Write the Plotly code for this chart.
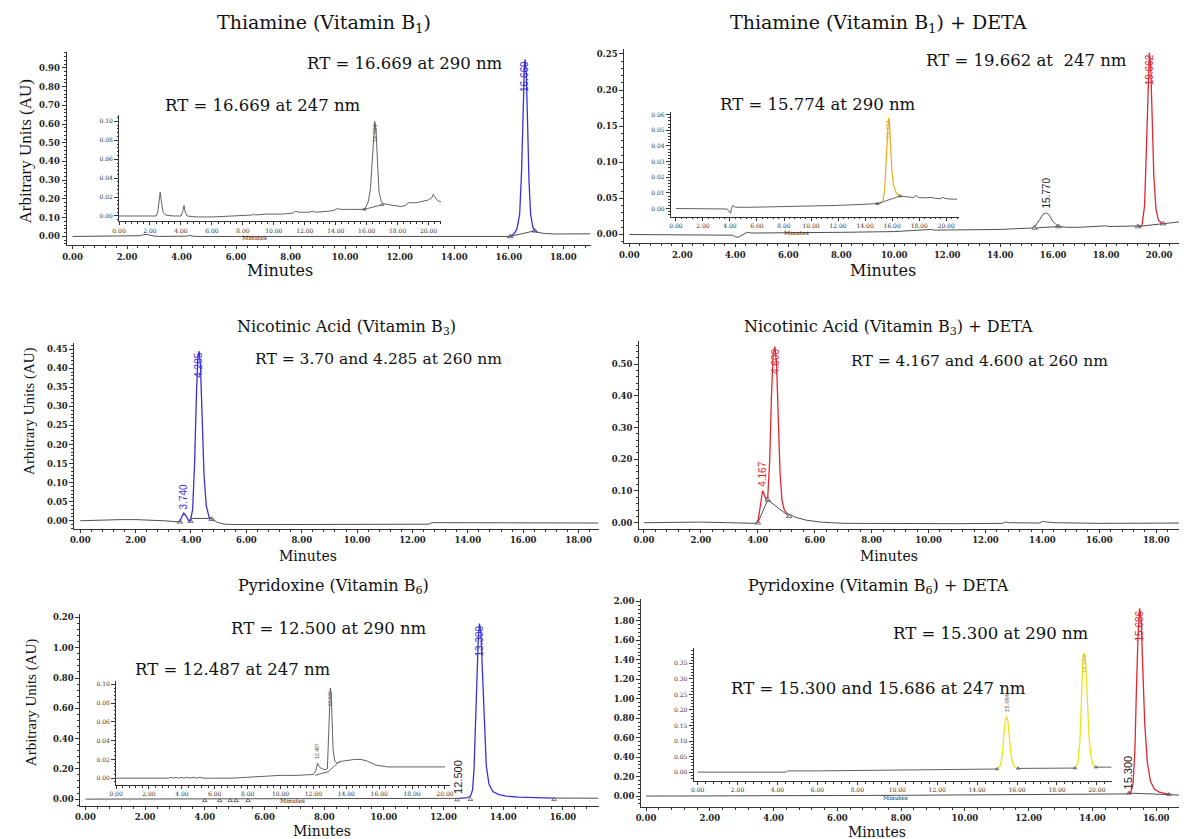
import plotly.graph_objects as go

# The page body has an 8 px margin, so the figure is drawn 8 px in from the window
OFF = 8
W, H = 1187 - OFF, 839 - OFF
SERIF = "DejaVu Serif, Liberation Serif, serif"
TSERIF = "Liberation Serif, Times New Roman, serif"
SANS = "Liberation Sans Narrow, Liberation Sans, Arial, sans-serif"
GRAY = "#505050"
BLUE = "#3b2fd9"
RED = "#e0262f"
ORANGE = "#e8aa1a"
YELLOW = "#efe01c"
AXIS = "#333333"

# ---------------- data (minutes, AU) ----------------
# Panel 1: Thiamine 290 nm
p1_t = [0.0, 1.0, 2.3, 2.5, 2.6, 2.7, 2.8, 2.95, 3.2, 4.0, 4.2, 4.3, 4.4, 4.6, 6.0, 8.0, 10.0, 12.0, 14.0, 15.0, 16.05]
p1_y = [0.0, 0.0, 0.0, 0.004, 0.009, 0.011, 0.008, 0.003, 0.0, 0.0, 0.002, 0.005, 0.002, 0.0, 0.0, 0.0, 0.0, 0.0, 0.0, 0.0, 0.0]
p1_pk_t = [16.05, 16.2, 16.3, 16.4, 16.47, 16.52, 16.57, 16.6, 16.64, 16.69, 16.74, 16.8, 16.88, 16.95, 17.05]
p1_pk_y = [0.0, 0.015, 0.04, 0.12, 0.35, 0.65, 0.9, 0.945, 0.88, 0.6, 0.3, 0.12, 0.05, 0.03, 0.022]
p1_tail_t = [17.05, 17.3, 17.7, 18.2, 18.6, 19.0]
p1_tail_y = [0.022, 0.016, 0.013, 0.012, 0.013, 0.014]
p1_base_t = [16.05, 16.95]
p1_base_y = [0.0, 0.03]

# Panel 1 inset: Thiamine 247 nm
p1i_t = [0.0, 1.5, 2.4, 2.5, 2.58, 2.66, 2.74, 2.85, 3.0, 3.5,
         4.0, 4.12, 4.2, 4.28, 4.4, 5.0, 6.0, 7.0, 8.0, 8.6,
         8.7, 8.8, 9.5, 10.5, 11.2, 11.4, 11.6, 12.0, 12.3, 12.5,
         12.7, 13.5, 13.9, 14.1, 14.3, 15.0, 15.7, 15.9, 16.1, 16.25,
         16.35, 16.45, 16.52, 16.6, 16.7, 16.8, 16.95, 17.1, 17.4, 17.8,
         18.2, 18.5, 18.7, 19.2, 19.7, 20.0, 20.2, 20.3, 20.45, 20.6, 20.8]
p1i_y = [0.0, 0.0, 0.0, 0.004, 0.015, 0.025, 0.015, 0.004, 0.001, 0.0,
         0.0, 0.005, 0.011, 0.004, 0.0, -0.001, -0.001, 0.0, 0.001, 0.001,
         0.002, 0.001, 0.002, 0.002, 0.003, 0.005, 0.004, 0.004, 0.004, 0.005,
         0.004, 0.005, 0.006, 0.008, 0.007, 0.007, 0.007, 0.008, 0.015, 0.03,
         0.06, 0.09, 0.10, 0.09, 0.05, 0.025, 0.015, 0.013, 0.012, 0.011,
         0.01, 0.011, 0.014, 0.014, 0.016, 0.017, 0.019, 0.023, 0.019, 0.016, 0.015]
p1i_base_t = [15.85, 17.0]
p1i_base_y = [0.007, 0.012]

# Panel 2: Thiamine + DETA 247 nm
p2_t = [0.0, 2.0, 3.9, 4.0, 4.1, 4.2, 4.35, 4.45, 4.6, 5.0, 6.0, 8.0, 10.0, 11.3, 11.4, 11.5, 12.0, 14.0, 15.2,
        15.35, 15.5, 15.62, 15.74, 15.85, 15.97, 16.1, 16.25, 16.5, 17.0, 17.9, 18.0, 18.1, 18.6, 19.2, 19.35]
p2_y = [0.0, 0.0, -0.001, -0.003, -0.004, -0.002, 0.001, 0.003, 0.002, 0.002, 0.002, 0.003, 0.004, 0.006, 0.007, 0.006, 0.006, 0.007, 0.009,
        0.013, 0.021, 0.028, 0.030, 0.027, 0.019, 0.014, 0.011, 0.01, 0.01, 0.011, 0.012, 0.011, 0.011, 0.011, 0.012]
p2_red_t = [19.35, 19.45, 19.52, 19.58, 19.63, 19.68, 19.74, 19.8, 19.88, 19.97, 20.07, 20.17]
p2_red_y = [0.012, 0.04, 0.12, 0.21, 0.252, 0.235, 0.16, 0.08, 0.035, 0.02, 0.016, 0.015]
p2_tail_t = [20.17, 20.5, 20.9]
p2_tail_y = [0.015, 0.016, 0.018]
p2_base1_t = [15.3, 16.2]
p2_base1_y = [0.009, 0.011]
p2_base2_t = [19.2, 20.15]
p2_base2_y = [0.011, 0.015]

# Panel 2 inset: 290 nm
p2i_t = [0.0, 2.0, 3.8, 3.95, 4.05, 4.12, 4.2, 4.3, 4.5, 5.5, 6.2, 6.4, 8.0, 10.0, 12.0, 14.0, 15.0, 15.3]
p2i_y = [0.0, 0.0, -0.0003, -0.002, -0.003, 0.0, 0.002, 0.0012, 0.0008, 0.0008, 0.0009, 0.0013, 0.0014, 0.0017, 0.002, 0.0027, 0.0033, 0.004]
p2i_pk_t = [15.3, 15.45, 15.55, 15.65, 15.73, 15.8, 15.88, 15.97, 16.1, 16.3, 16.55]
p2i_pk_y = [0.004, 0.012, 0.03, 0.05, 0.058, 0.055, 0.04, 0.025, 0.015, 0.01, 0.008]
p2i_tail_t = [16.55, 17.0, 17.6, 17.75, 17.85, 18.0, 18.5, 18.8, 19.0, 19.2, 19.6, 19.75, 19.9, 20.3, 20.8]
p2i_tail_y = [0.008, 0.0075, 0.007, 0.0085, 0.0075, 0.007, 0.0068, 0.0072, 0.0068, 0.0065, 0.0063, 0.0072, 0.0065, 0.006, 0.006]
p2i_base_t = [14.9, 16.6]
p2i_base_y = [0.0031, 0.008]

# Panel 3: Nicotinic acid 260 nm
p3_t = [0.0, 0.8, 1.5, 2.0, 2.5, 3.0, 3.6]
p3_y = [0.0, 0.002, 0.003, 0.003, 0.002, 0.0, -0.003]
p3_pk_t = [3.6, 3.66, 3.74, 3.82, 3.9, 3.98, 4.06, 4.13, 4.2, 4.25, 4.29, 4.34, 4.4, 4.47, 4.55, 4.65, 4.75]
p3_pk_y = [-0.003, 0.01, 0.02, 0.013, 0.002, -0.001, 0.03, 0.15, 0.34, 0.43, 0.445, 0.41, 0.28, 0.12, 0.04, 0.01, 0.004]
p3_tail_t = [4.75, 4.95, 5.2, 5.6, 7.0, 9.0, 11.0, 12.6, 12.7, 12.8, 13.2, 15.0, 17.0, 18.72]
p3_tail_y = [0.004, -0.004, -0.009, -0.01, -0.01, -0.01, -0.01, -0.009, -0.005, -0.005, -0.006, -0.006, -0.006, -0.006]
p3_base_t = [4.0, 4.7]
p3_base_y = [0.006, 0.006]

# Panel 4: Nicotinic acid + DETA 260 nm
p4_t = [0.0, 1.0, 2.0, 3.0, 3.5, 3.9, 4.0]
p4_y = [0.0, 0.002, 0.002, 0.0, -0.002, -0.002, 0.0]
p4_pk_t = [4.0, 4.06, 4.12, 4.17, 4.22, 4.28, 4.35, 4.42, 4.48, 4.54, 4.6, 4.66, 4.72, 4.78, 4.85, 4.93, 5.02]
p4_pk_y = [0.0, 0.04, 0.085, 0.101, 0.09, 0.075, 0.08, 0.2, 0.4, 0.53, 0.555, 0.5, 0.33, 0.16, 0.07, 0.04, 0.03]
p4_tail_t = [5.02, 5.3, 5.7, 6.2, 7.0, 9.0, 11.0, 12.6, 12.7, 12.85, 13.3, 13.9, 14.0, 14.1, 14.4, 16.0, 18.94]
p4_tail_y = [0.03, 0.018, 0.008, 0.002, -0.002, -0.003, -0.003, -0.002, 0.002, 0.0, -0.001, -0.001, 0.004, 0.003, 0.0, -0.002, -0.001]
p4_base_t = [4.0, 4.35, 5.1]
p4_base_y = [0.0, 0.072, 0.02]

# Panel 5: Pyridoxine 290 nm
p5_t = [0.0, 2.0, 4.0, 6.0, 8.0, 10.0, 12.0, 12.5]
p5_y = [0.0, 0.0, 0.0, 0.0, 0.002, 0.003, 0.004, 0.005]
p5_pk_t = [12.5, 12.8, 12.9, 12.97, 13.02, 13.07, 13.12, 13.16, 13.2, 13.25, 13.3, 13.36, 13.43, 13.52, 13.65, 13.85, 14.1, 14.5, 15.0, 15.7]
p5_pk_y = [0.005, 0.01, 0.02, 0.06, 0.2, 0.5, 0.85, 1.05, 1.16, 1.1, 0.85, 0.5, 0.22, 0.1, 0.05, 0.03, 0.02, 0.013, 0.01, 0.007]
p5_tail_t = [15.7, 16.5, 17.19]
p5_tail_y = [0.007, 0.006, 0.006]
p5_marks_t = [4.0, 4.5, 4.85, 5.05, 5.45, 12.45, 12.9, 15.7]
p5_marks_y = [-0.01, -0.01, -0.01, -0.01, -0.01, -0.005, -0.002, -0.002]

# Panel 5 inset: 247 nm
p5i_t = [0.0, 2.0, 3.2, 3.35, 3.5, 3.65, 3.8, 3.95, 4.1, 4.3,
         4.5, 4.7, 4.9, 5.1, 5.3, 6.0, 7.0, 8.0, 9.0, 10.0,
         11.0, 12.0, 12.15, 12.25, 12.33, 12.42, 12.55, 12.7, 12.85, 12.92,
         12.98, 13.03, 13.08, 13.13, 13.2, 13.3, 13.45, 13.7, 14.0, 14.5,
         14.9, 15.3, 15.8, 16.5, 18.0, 20.0]
p5i_y = [0.0, 0.0, 0.0, 0.001, 0.0, 0.001, 0.0, 0.001, 0.0, 0.001,
         0.0, 0.001, 0.0, 0.001, 0.0, 0.0, 0.0, 0.001, 0.002, 0.003,
         0.003, 0.004, 0.008, 0.016, 0.013, 0.011, 0.01, 0.009, 0.01, 0.04,
         0.08, 0.096, 0.09, 0.06, 0.03, 0.018, 0.016, 0.018, 0.019, 0.02,
         0.02, 0.018, 0.014, 0.012, 0.012, 0.012]
p5i_base_t = [12.1, 12.9, 13.6]
p5i_base_y = [0.003, 0.007, 0.018]

# Panel 6: Pyridoxine + DETA 290 nm
p6_t = [0.0, 2.0, 4.4, 4.5, 4.6, 6.0, 8.0, 10.0, 12.0, 14.0, 15.1]
p6_y = [0.0, 0.0, 0.0, 0.004, 0.005, 0.006, 0.008, 0.01, 0.013, 0.018, 0.022]
p6_pk_t = [15.1, 15.2, 15.27, 15.33, 15.38, 15.43, 15.48, 15.53, 15.58, 15.64, 15.72, 15.82, 15.95, 16.1, 16.3, 16.45]
p6_pk_y = [0.022, 0.04, 0.12, 0.45, 1.1, 1.65, 1.93, 1.8, 1.3, 0.75, 0.35, 0.15, 0.07, 0.04, 0.025, 0.02]
p6_tail_t = [16.45, 16.84]
p6_tail_y = [0.015, 0.008]
p6_base_t = [15.15, 16.4]
p6_base_y = [0.03, 0.015]

# Panel 6 inset: 247 nm
p6i_t = [0.0, 2.0, 4.4, 4.5, 4.6, 6.0, 8.0, 10.0, 12.0, 14.0, 15.0]
p6i_y = [0.0, 0.0, 0.0, 0.003, 0.004, 0.004, 0.005, 0.006, 0.007, 0.009, 0.01]
p6i_pk1_t = [15.0, 15.15, 15.25, 15.33, 15.4, 15.47, 15.54, 15.62, 15.7, 15.8, 15.92, 16.05]
p6i_pk1_y = [0.01, 0.02, 0.05, 0.11, 0.16, 0.18, 0.165, 0.11, 0.055, 0.025, 0.014, 0.012]
p6i_mid_t = [16.05, 17.0, 18.0, 18.9]
p6i_mid_y = [0.012, 0.012, 0.013, 0.013]
p6i_pk2_t = [18.9, 19.05, 19.15, 19.23, 19.3, 19.37, 19.44, 19.52, 19.6, 19.7, 19.82, 19.95]
p6i_pk2_y = [0.013, 0.03, 0.1, 0.25, 0.36, 0.385, 0.35, 0.24, 0.12, 0.05, 0.022, 0.016]
p6i_tail_t = [19.95, 20.4, 20.74]
p6i_tail_y = [0.016, 0.016, 0.016]

p5_yticks = [0.0, 0.2, 0.4, 0.6, 0.8, 1.0, 1.2]
p5_yticktext = ["0.00", "0.20", "0.40", "0.60", "0.80", "1.00", "0.20"]

# ---------------- layout helpers ----------------
fig = go.Figure()


def fx(px):
    return min(max((px - OFF) / W, 0.0), 1.0)


def fy(py):
    return min(max(1 - (py - OFF) / H, 0.0), 1.0)


def xname(n):
    return "x" if n == 1 else f"x{n}"


def yname(n):
    return "y" if n == 1 else f"y{n}"


# id: (xdom px, xrange, ydom (top, bottom) px, yrange, ydtick, tick font, tick len, inset)
AXES = {
    1: ((60, 589), [-0.22, 19.0], (50, 244), [-0.048, 0.985], 0.1, 8.5, 3, False),
    2: ((113, 438), [0.0, 20.8], (113, 220), [-0.0058, 0.107], 0.02, 6, 3, True),
    3: ((623, 1187), [-0.19, 20.9], (47, 242), [-0.0124, 0.257], 0.05, 8.5, 3, False),
    4: ((670, 961), [-0.37, 20.95], (110, 215), [-0.0051, 0.0619], 0.01, 6, 3, True),
    5: ((68, 597), [-0.21, 18.72], (342, 528), [-0.021, 0.466], 0.05, 8.5, 3, False),
    6: ((638, 1187), [-0.17, 18.94], (340, 528), [-0.019, 0.572], 0.1, 8.5, 3, False),
    7: ((74, 597), [-0.17, 17.19], (613, 806), [-0.046, 1.226], 0.2, 8.5, 3, False),
    8: ((110, 447), [0.0, 20.3], (681, 785), [-0.0074, 0.1032], 0.02, 6, 3, True),
    9: ((640, 1187), [-0.155, 16.84], (598, 807), [-0.113, 2.03], 0.2, 8.5, 3, False),
    10: ((693, 1115), [-0.2, 20.74], (648, 781), [-0.029, 0.398], 0.05, 6, 3, True),
}

layout_axes = {}
for n, (xd, xr, yd, yr, ydt, fs, tl, inset) in AXES.items():
    tf = dict(family=SERIF, size=fs, color="#333333" if inset else "#222222",
              weight="normal" if inset else "bold")
    layout_axes["xaxis" if n == 1 else f"xaxis{n}"] = dict(
        domain=[fx(xd[0]), fx(xd[1])], range=xr, anchor=yname(n),
        showline=True, linecolor=AXIS, linewidth=1,
        ticks="outside", ticklen=tl, tickwidth=1, tickcolor=AXIS,
        tick0=0, dtick=2, tickformat=".2f", tickfont=tf,
        minor=dict(ticks="outside", ticklen=2 if not inset else 1.5, dtick=0.4, tick0=0,
                   tickcolor=AXIS, tickwidth=1),
        showgrid=False, zeroline=False, fixedrange=True)
    yax = dict(
        domain=[fy(yd[1]), fy(yd[0])], range=yr, anchor=xname(n),
        showline=True, linecolor=AXIS, linewidth=1,
        ticks="outside", ticklen=tl + 1, tickwidth=1, tickcolor=AXIS,
        tick0=0, dtick=ydt, tickformat=".2f", tickfont=tf,
        minor=dict(ticks="outside", ticklen=2 if not inset else 1.5, dtick=ydt / 5, tick0=0,
                   tickcolor=AXIS, tickwidth=1),
        showgrid=False, zeroline=False, fixedrange=True)
    if n == 7:
        yax.update(tickmode="array", tickvals=p5_yticks, ticktext=p5_yticktext)
    layout_axes["yaxis" if n == 1 else f"yaxis{n}"] = yax


def line(n, xs, ys, color, width=1.0):
    fig.add_trace(go.Scatter(x=xs, y=ys, mode="lines",
                             line=dict(color=color, width=width),
                             xaxis=xname(n), yaxis=yname(n), hoverinfo="skip"))


def marks(n, xs, ys, color=GRAY, size=5):
    fig.add_trace(go.Scatter(x=xs, y=ys, mode="markers",
                             marker=dict(symbol="triangle-up-open", size=size,
                                         color=color, line=dict(width=0.8)),
                             xaxis=xname(n), yaxis=yname(n), hoverinfo="skip"))


# ---------------- traces ----------------
line(1, p1_t, p1_y, GRAY)
line(1, p1_base_t, p1_base_y, GRAY)
line(1, p1_tail_t, p1_tail_y, GRAY)
line(1, p1_pk_t, p1_pk_y, BLUE, 1.3)
marks(1, p1_base_t, p1_base_y)
line(2, p1i_t, p1i_y, GRAY, 0.9)
line(2, p1i_base_t, p1i_base_y, GRAY, 0.9)
marks(2, p1i_base_t, p1i_base_y, size=3)

line(3, p2_t, p2_y, GRAY)
line(3, p2_tail_t, p2_tail_y, GRAY)
line(3, p2_base1_t, p2_base1_y, GRAY)
line(3, p2_base2_t, p2_base2_y, GRAY)
line(3, p2_red_t, p2_red_y, RED, 1.3)
marks(3, p2_base1_t + p2_base2_t, p2_base1_y + p2_base2_y)
line(4, p2i_t, p2i_y, GRAY, 0.9)
line(4, p2i_tail_t, p2i_tail_y, GRAY, 0.9)
line(4, p2i_base_t, p2i_base_y, GRAY, 0.9)
line(4, p2i_pk_t, p2i_pk_y, ORANGE, 1.2)
marks(4, p2i_base_t, p2i_base_y, size=3)

line(5, p3_t, p3_y, GRAY)
line(5, p3_tail_t, p3_tail_y, GRAY)
line(5, p3_base_t, p3_base_y, GRAY)
line(5, p3_pk_t, p3_pk_y, BLUE, 1.3)
marks(5, [p3_pk_t[0], p3_pk_t[5], p3_pk_t[-1]], [p3_pk_y[0], p3_pk_y[5], p3_pk_y[-1]])

line(6, p4_t, p4_y, GRAY)
line(6, p4_tail_t, p4_tail_y, GRAY)
line(6, p4_base_t, p4_base_y, GRAY)
line(6, p4_pk_t, p4_pk_y, RED, 1.3)
marks(6, p4_base_t, p4_base_y)

line(7, p5_t, p5_y, GRAY)
line(7, p5_tail_t, p5_tail_y, GRAY)
line(7, p5_pk_t, p5_pk_y, BLUE, 1.3)
marks(7, p5_marks_t, p5_marks_y, size=4)
line(8, p5i_t, p5i_y, GRAY, 0.9)
line(8, p5i_base_t, p5i_base_y, GRAY, 0.9)

line(9, p6_t, p6_y, GRAY)
line(9, p6_tail_t, p6_tail_y, GRAY)
line(9, p6_base_t, p6_base_y, GRAY)
line(9, p6_pk_t, p6_pk_y, RED, 1.3)
marks(9, p6_base_t, p6_base_y, size=4)
line(10, p6i_t, p6i_y, GRAY, 0.9)
line(10, p6i_mid_t, p6i_mid_y, GRAY, 0.9)
line(10, p6i_tail_t, p6i_tail_y, GRAY, 0.9)
line(10, p6i_pk1_t, p6i_pk1_y, YELLOW, 1.3)
line(10, p6i_pk2_t, p6i_pk2_y, YELLOW, 1.3)
marks(10, [p6i_pk1_t[0], p6i_pk1_t[-1], p6i_pk2_t[0], p6i_pk2_t[-1]],
      [p6i_pk1_y[0], p6i_pk1_y[-1], p6i_pk2_y[0], p6i_pk2_y[-1]], size=3)

# ---------------- annotations ----------------
ann = []


def ptxt(px, py, text, size, family=SERIF, angle=0, color="#111111"):
    ann.append(dict(x=fx(px), y=fy(py), xref="paper", yref="paper", text=text,
                    showarrow=False, textangle=angle, xanchor="center", yanchor="middle",
                    font=dict(family=family, size=size, color=color)))


def peak_label(n, xs, ys, text, color, size, where="top", lo=None, hi=None):
    idx = [i for i in range(len(xs)) if (lo is None or xs[i] >= lo) and (hi is None or xs[i] <= hi)]
    i = max(idx, key=lambda k: ys[k])
    ann.append(dict(x=xs[i], y=ys[i], xref=xname(n), yref=yname(n), text=text,
                    showarrow=False, textangle=-90, xanchor="center",
                    yanchor="top" if where == "top" else "bottom",
                    yshift=0 if where == "top" else 2,
                    font=dict(family=SANS, size=size, color=color)))


# titles
ptxt(320, 22, "Thiamine (Vitamin B<sub>1</sub>)", 19)
ptxt(880, 22, "Thiamine (Vitamin B<sub>1</sub>) + DETA", 19)
ptxt(343, 326, "Nicotinic Acid (Vitamin B<sub>3</sub>)", 16)
ptxt(890, 326, "Nicotinic Acid (Vitamin B<sub>3</sub>) + DETA", 16)
ptxt(330, 586, "Pyridoxine (Vitamin B<sub>6</sub>)", 16)
ptxt(880, 586, "Pyridoxine (Vitamin B<sub>6</sub>) + DETA", 16)
# RT labels
ptxt(402, 62, "RT = 16.669 at 290 nm", 16.5)
ptxt(258, 104, "RT = 16.669 at 247 nm", 16.5)
ptxt(1029, 59, "RT = 19.662 at  247 nm", 16.5)
ptxt(819, 103, "RT = 15.774 at 290 nm", 16.5)
ptxt(375, 358, "RT = 3.70 and 4.285 at 260 nm", 15.5)
ptxt(982, 360, "RT = 4.167 and 4.600 at 260 nm", 15.5)
ptxt(325, 628, "RT = 12.500 at 290 nm", 16.5)
ptxt(228, 669, "RT = 12.487 at 247 nm", 16.5)
ptxt(993, 633, "RT = 15.300 at 290 nm", 16.5)
ptxt(880, 688, "RT = 15.300 and 15.686 at 247 nm", 16.5)
# axis titles
ptxt(275, 269, "Minutes", 16)
ptxt(884, 269, "Minutes", 16)
ptxt(304, 555, "Minutes", 14)
ptxt(890, 555, "Minutes", 14)
ptxt(318, 831, "Minutes", 14)
ptxt(878, 832, "Minutes", 14)
ptxt(250, 236, "Minutes", 6)
ptxt(797, 231, "Minutes", 6)
ptxt(288, 800, "Minutes", 6)
ptxt(897, 797, "Minutes", 6)
ptxt(19, 150, "Arbitrary Units (AU)", 17, family=TSERIF, angle=-90)
ptxt(22, 410, "Arbitrary Units (AU)", 15, family=TSERIF, angle=-90)
ptxt(24, 702, "Arbitrary Units (AU)", 15, family=TSERIF, angle=-90)
# peak labels
peak_label(1, p1_pk_t, p1_pk_y, "16.669", BLUE, 10)
peak_label(2, p1i_t, p1i_y, "16.669", GRAY, 6, lo=16.0, hi=17.0)
peak_label(3, p2_t, p2_y, "15.770", "#222222", 10, where="bottom", lo=15.0, hi=16.5)
peak_label(3, p2_red_t, p2_red_y, "19.662", RED, 10)
peak_label(4, p2i_pk_t, p2i_pk_y, "15.774", ORANGE, 6)
peak_label(5, p3_pk_t, p3_pk_y, "3.740", BLUE, 10, where="bottom", lo=3.6, hi=3.9)
peak_label(5, p3_pk_t, p3_pk_y, "4.285", BLUE, 10)
peak_label(6, p4_pk_t, p4_pk_y, "4.167", RED, 10, where="bottom", lo=4.0, hi=4.3)
peak_label(6, p4_pk_t, p4_pk_y, "4.600", RED, 10)
peak_label(7, p5_pk_t, p5_pk_y, "13.300", BLUE, 10)
peak_label(7, p5_pk_t[:1], p5_pk_y[:1], "12.500", "#222222", 11, where="bottom")
peak_label(8, p5i_t, p5i_y, "12.487", GRAY, 5, where="bottom", lo=12.0, hi=12.6)
peak_label(8, p5i_t, p5i_y, "13.030", GRAY, 5, lo=12.9, hi=13.2)
peak_label(9, p6_pk_t, p6_pk_y, "15.686", RED, 10)
peak_label(9, p6_pk_t[:1], p6_pk_y[:1], "15.300", "#222222", 11, where="bottom")
peak_label(10, p6i_pk1_t, p6i_pk1_y, "15.684", "#555555", 6, where="bottom")
peak_label(10, p6i_pk2_t, p6i_pk2_y, "19.369", "#c8b400", 6)

fig.update_layout(
    width=W, height=H, margin=dict(l=0, r=0, t=0, b=0),
    paper_bgcolor="white", plot_bgcolor="rgba(0,0,0,0)",
    showlegend=False, annotations=ann, **layout_axes)

fig.write_html("out.html")
